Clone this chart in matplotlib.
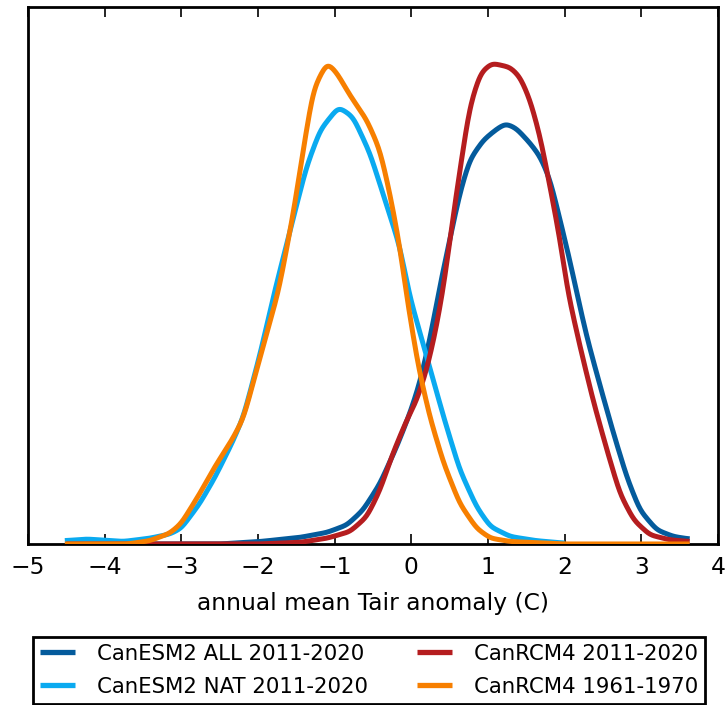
import numpy as np
import matplotlib
matplotlib.use("Agg")
import matplotlib.pyplot as plt

# density curves (x in C, y = density)
all_x = [-4.5, -2.5, -1.97, -1.45, -1.10, -0.84, -0.63, -0.41, -0.19, -0.02, 0.11, 0.24, 0.37,
         0.50, 0.63, 0.76, 0.94, 1.11, 1.23, 1.37, 1.55, 1.68, 1.81, 1.94, 2.07, 2.16,
         2.29, 2.46, 2.63, 2.81, 2.98, 3.20, 3.42, 3.63]
all_y = [0.0, 0.0, 0.003, 0.008, 0.014, 0.023, 0.041, 0.073, 0.118, 0.158, 0.195, 0.247, 0.311,
         0.368, 0.424, 0.465, 0.489, 0.502, 0.509, 0.503, 0.485, 0.469, 0.441, 0.392, 0.342, 0.303,
         0.250, 0.192, 0.136, 0.081, 0.041, 0.017, 0.009, 0.006]

nat_x = [-4.52, -4.23, -3.76, -3.41, -3.15, -3.0, -2.76, -2.56, -2.34, -2.19, -1.97, -1.78,
         -1.58, -1.37, -1.19, -0.95, -0.76, -0.54, -0.37, -0.15, -0.02, 0.20, 0.42, 0.63,
         0.85, 1.03, 1.29, 1.63, 2.0]
nat_y = [0.004, 0.006, 0.003, 0.007, 0.012, 0.019, 0.049, 0.081, 0.122, 0.154, 0.231, 0.307,
         0.380, 0.456, 0.501, 0.529, 0.517, 0.473, 0.424, 0.360, 0.299, 0.227, 0.154, 0.090,
         0.045, 0.021, 0.009, 0.004, 0.001]

rcm_x = [-4.5, -2.0, -1.45, -1.10, -0.80, -0.58, -0.41, -0.24, -0.06, 0.07, 0.20, 0.31, 0.42,
         0.55, 0.68, 0.76, 0.90, 1.05, 1.29, 1.42, 1.55, 1.68, 1.81, 1.94, 2.04,
         2.20, 2.37, 2.55, 2.72, 2.90, 3.11, 3.37, 3.63]
rcm_y = [0.0, 0.0, 0.002, 0.007, 0.015, 0.033, 0.065, 0.110, 0.150, 0.174, 0.211, 0.255, 0.311,
         0.400, 0.481, 0.529, 0.570, 0.582, 0.577, 0.565, 0.537, 0.493, 0.432, 0.368, 0.305,
         0.239, 0.174, 0.114, 0.061, 0.029, 0.011, 0.005, 0.003]

old_x = [-4.52, -3.7, -3.41, -3.15, -3.0, -2.76, -2.56, -2.34, -2.19, -1.97, -1.73, -1.54,
         -1.41, -1.28, -1.10, -0.97, -0.80, -0.58, -0.41, -0.28, -0.15, -0.06, 0.09, 0.24,
         0.42, 0.63, 0.85, 1.03, 1.29, 2.0, 3.63]
old_y = [0.0, 0.0, 0.004, 0.013, 0.025, 0.061, 0.094, 0.126, 0.152, 0.227, 0.307, 0.400,
         0.477, 0.550, 0.583, 0.570, 0.543, 0.513, 0.477, 0.424, 0.360, 0.299, 0.215, 0.154,
         0.098, 0.049, 0.019, 0.007, 0.003, 0.0, 0.0]

labels = ["CanESM2 ALL 2011-2020", "CanESM2 NAT 2011-2020",
          "CanRCM4 2011-2020", "CanRCM4 1961-1970"]
colors = ["#045b9c", "#0aaaf0", "#b51d1f", "#f77f00"]


def smooth(xs, ys, n=900, sigma=0.045):
    # dense linear interp of the read points, then a small gaussian blur
    xx = np.linspace(xs[0], xs[-1], n)
    yy = np.interp(xx, xs, ys)
    dx = xx[1] - xx[0]
    half = int(4 * sigma / dx)
    t = np.arange(-half, half + 1) * dx
    ker = np.exp(-0.5 * (t / sigma) ** 2)
    ker /= ker.sum()
    pad = np.pad(yy, half, mode="edge")
    yy = np.convolve(pad, ker, mode="valid")
    return xx, yy


fig = plt.figure(figsize=(7.28, 7.05), dpi=100)
ax = fig.add_axes([0.0385, 0.2284, 0.9478, 0.7617])

series = [(all_x, all_y), (nat_x, nat_y), (rcm_x, rcm_y), (old_x, old_y)]
order = [0, 1, 3, 2]
lines = {}
for i in order:
    xs, ys = series[i]
    xx, yy = smooth(xs, ys)
    lines[i], = ax.plot(xx, yy, color=colors[i], lw=3.6, label=labels[i],
                        solid_capstyle="butt", zorder=3 + i * 0.1)

ax.set_xlim(-5, 4)
ax.set_ylim(0, 0.65)
ax.set_xticks(range(-5, 5))
ax.set_yticks([])
ax.tick_params(axis="x", direction="in", top=True, length=7, width=1.2,
               labelsize=16.8, pad=9)
for s in ax.spines.values():
    s.set_linewidth(2)
ax.set_xlabel("annual mean Tair anomaly (C)", fontsize=16.8, labelpad=9)

leg = fig.legend([lines[0], lines[1], lines[2], lines[3]], labels, ncol=2,
                 loc="lower left", bbox_to_anchor=(33 / 728, 1.5 / 705),
                 borderaxespad=0, fontsize=15.3, frameon=True, fancybox=False,
                 framealpha=1, handlelength=1.65, handletextpad=1.04,
                 columnspacing=2.3, borderpad=0.32, labelspacing=0.62)
leg.get_frame().set_edgecolor("black")
leg.get_frame().set_linewidth(2)
for h in leg.get_lines():
    h.set_linewidth(3.8)

fig.savefig("out.png", dpi=100)
